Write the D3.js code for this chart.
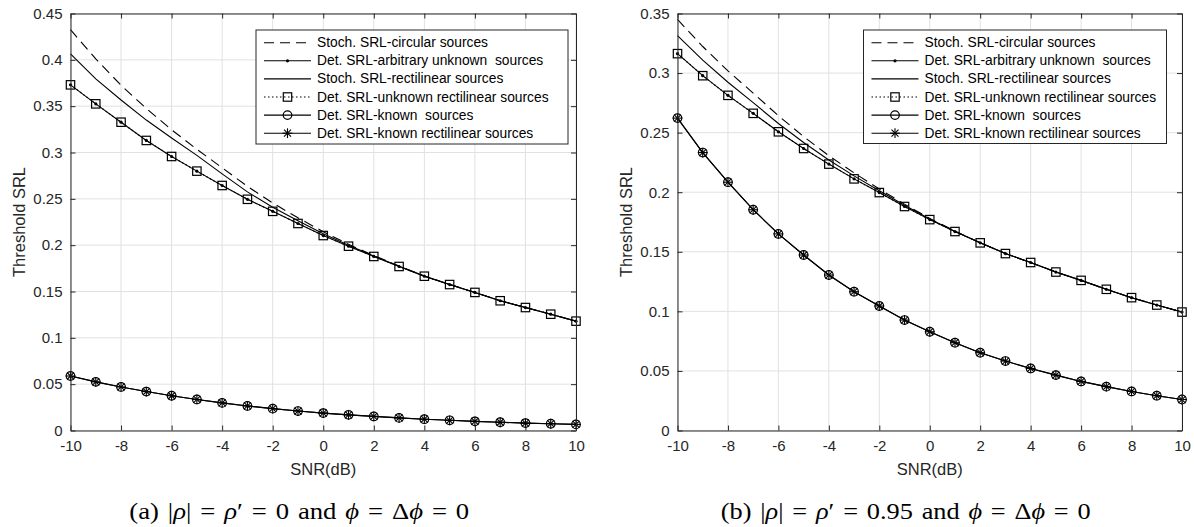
<!DOCTYPE html>
<html><head><meta charset="utf-8">
<script src="https://cdn.jsdelivr.net/npm/d3@7"></script>
<style>body{margin:0;background:#fff;} svg{display:block;} text{white-space:pre;}</style>
</head><body>
<svg id="c" width="1194" height="527"></svg>
<script>
// ---------- data ----------
const snr = [-10,-9,-8,-7,-6,-5,-4,-3,-2,-1,0,1,2,3,4,5,6,7,8,9,10];
const xTicks = [-10,-8,-6,-4,-2,0,2,4,6,8,10];
const yTicksA = [0,0.05,0.1,0.15,0.2,0.25,0.3,0.35,0.4,0.45];
const yTicksB = [0,0.05,0.1,0.15,0.2,0.25,0.3,0.35];
const xLabel = "SNR(dB)";
const yLabel = "Threshold SRL";
const legendLabels = [
  "Stoch. SRL-circular sources",
  "Det. SRL-arbitrary unknown  sources",
  "Stoch. SRL-rectilinear sources",
  "Det. SRL-unknown rectilinear sources",
  "Det. SRL-known  sources",
  "Det. SRL-known rectilinear sources"
];

// panel (a): |rho| = rho' = 0
const stochCircA    = [0.4325,0.401,0.3725,0.3475,0.3245,0.3035,0.2835,0.2635,0.2455,0.2295,0.2145,0.2009,0.1888,0.1775,0.1668,0.1576,0.149,0.140,0.1327,0.1255,0.118];
const detArbA       = [0.373,0.3525,0.3327,0.313,0.2957,0.2799,0.2644,0.2495,0.2365,0.2234,0.2104,0.1989,0.1878,0.177,0.1665,0.1575,0.149,0.140,0.1327,0.1255,0.118];
const stochRectA    = [0.4065,0.3795,0.3567,0.335,0.3157,0.2969,0.2769,0.2575,0.241,0.2264,0.2124,0.1999,0.1883,0.1772,0.1666,0.1575,0.149,0.140,0.1327,0.1255,0.118];
const detUnkRectA   = [0.373,0.3525,0.3327,0.313,0.2957,0.2799,0.2644,0.2495,0.2365,0.2234,0.2104,0.1989,0.1878,0.177,0.1665,0.1575,0.149,0.140,0.1327,0.1255,0.118];
const detKnownA     = [0.0588,0.0525,0.047,0.042,0.0375,0.0335,0.0298,0.0265,0.0236,0.021,0.0188,0.0169,0.0152,0.0136,0.0122,0.011,0.0099,0.0089,0.008,0.0073,0.0066];
const detKnownRectA = [0.0588,0.0525,0.047,0.042,0.0375,0.0335,0.0298,0.0265,0.0236,0.021,0.0188,0.0169,0.0152,0.0136,0.0122,0.011,0.0099,0.0089,0.008,0.0073,0.0066];

// panel (b): |rho| = rho' = 0.95
const stochCircB    = [0.345,0.3223,0.3018,0.2832,0.2642,0.2467,0.2306,0.2162,0.2027,0.19,0.178,0.1675,0.1575,0.1485,0.141,0.133,0.126,0.1185,0.1115,0.1053,0.0994];
const detArbB       = [0.3163,0.2978,0.2813,0.2662,0.2507,0.2367,0.2236,0.2112,0.1997,0.188,0.177,0.167,0.1575,0.1485,0.141,0.133,0.126,0.1185,0.1115,0.1053,0.0994];
const stochRectB    = [0.3315,0.3108,0.2923,0.2752,0.2577,0.2417,0.2271,0.2137,0.2012,0.189,0.1775,0.167,0.1575,0.1485,0.141,0.133,0.126,0.1185,0.1115,0.1053,0.0994];
const detUnkRectB   = [0.3163,0.2978,0.2813,0.2662,0.2507,0.2367,0.2236,0.2112,0.1997,0.188,0.177,0.167,0.1575,0.1485,0.141,0.133,0.126,0.1185,0.1115,0.1053,0.0994];
const detKnownB     = [0.2622,0.2333,0.2084,0.1853,0.165,0.1473,0.1305,0.1165,0.1045,0.0927,0.0829,0.0737,0.0653,0.0583,0.0521,0.0465,0.0412,0.0368,0.0328,0.0292,0.026];
const detKnownRectB = [0.2622,0.2333,0.2084,0.1853,0.165,0.1473,0.1305,0.1165,0.1045,0.0927,0.0829,0.0737,0.0653,0.0583,0.0521,0.0465,0.0412,0.0368,0.0328,0.0292,0.026];

// captions: [text, italic]   (three-per-em spaces mimic TeX math spacing)
const SP = "\u2004";
const EQ = SP + "=" + SP;
const captionA = [["(a)"+SP,0],["|",0],["ρ",1],["|"+EQ,0],["ρ",1],["′"+EQ+"0"+SP,0],["and"+SP,0],["ϕ",1],[EQ+"Δ",0],["ϕ",1],[EQ+"0",0]];
const captionB = [["(b)"+SP,0],["|",0],["ρ",1],["|"+EQ,0],["ρ",1],["′"+EQ+"0.95"+SP,0],["and"+SP,0],["ϕ",1],[EQ+"Δ",0],["ϕ",1],[EQ+"0",0]];

// ---------- styles ----------
const seriesStyle = [
  {dash:"10,6", marker:null},
  {dash:null, marker:"dot"},
  {dash:null, marker:null},
  {dash:"1.5,2.5", marker:"square"},
  {dash:null, marker:"circle"},
  {dash:null, marker:"star"}
];
const AX = "#262626", GRID = "#e1e1e1";
const SANS = "'Liberation Sans', Arial, Helvetica, sans-serif";
const SERIF = "'Liberation Serif', 'Times New Roman', Times, serif";

const panels = [
  {x0:70.5, x1:576, y0:13.5, y1:430.5, yMax:0.45, yTicks:yTicksA,
   series:[stochCircA,detArbA,stochRectA,detUnkRectA,detKnownA,detKnownRectA],
   legend:{x:256, y:30, w:312, h:114}, caption:captionA, capW:340},
  {x0:677.5, x1:1182, y0:13.5, y1:430.5, yMax:0.35, yTicks:yTicksB,
   series:[stochCircB,detArbB,stochRectB,detUnkRectB,detKnownB,detKnownRectB],
   legend:{x:863.5, y:30, w:303, h:113.5}, caption:captionB, capW:370}
];

const svg = d3.select("#c");

function drawMarker(g, type, cx, cy) {
  if (type === "dot") {
    g.append("circle").attr("cx",cx).attr("cy",cy).attr("r",1.6).attr("fill","#000");
  } else if (type === "square") {
    g.append("rect").attr("x",cx-4.2).attr("y",cy-4.2).attr("width",8.4).attr("height",8.4)
      .attr("fill","none").attr("stroke","#000").attr("stroke-width",1.2);
  } else if (type === "circle") {
    g.append("circle").attr("cx",cx).attr("cy",cy).attr("r",4.3)
      .attr("fill","none").attr("stroke","#000").attr("stroke-width",1.2);
  } else if (type === "star") {
    const a = 4.9, b = 3.5;
    [[cx-a,cy,cx+a,cy],[cx,cy-a,cx,cy+a],[cx-b,cy-b,cx+b,cy+b],[cx-b,cy+b,cx+b,cy-b]].forEach(l=>{
      g.append("line").attr("x1",l[0]).attr("y1",l[1]).attr("x2",l[2]).attr("y2",l[3])
        .attr("stroke","#000").attr("stroke-width",1.1);
    });
  }
}

const fmt = d => String(+d.toFixed(2));

panels.forEach(p => {
  const x = d3.scaleLinear().domain([-10,10]).range([p.x0,p.x1]);
  const y = d3.scaleLinear().domain([0,p.yMax]).range([p.y1,p.y0]);
  const g = svg.append("g");

  g.append("rect").attr("x",p.x0).attr("y",p.y0).attr("width",p.x1-p.x0).attr("height",p.y1-p.y0).attr("fill","#fff");

  // grid
  g.append("g").selectAll("line").data(xTicks).join("line")
    .attr("x1",d=>x(d)).attr("x2",d=>x(d)).attr("y1",p.y0).attr("y2",p.y1)
    .attr("stroke",GRID).attr("stroke-width",1);
  g.append("g").selectAll("line").data(p.yTicks).join("line")
    .attr("y1",d=>y(d)).attr("y2",d=>y(d)).attr("x1",p.x0).attr("x2",p.x1)
    .attr("stroke",GRID).attr("stroke-width",1);

  // series
  const line = d3.line().x((d,i)=>x(snr[i])).y(d=>y(d));
  p.series.forEach((vals, si) => {
    const st = seriesStyle[si];
    g.append("path").attr("d", line(vals)).attr("fill","none").attr("stroke","#000")
      .attr("stroke-width",1.1).attr("stroke-dasharray", st.dash);
    if (st.marker) {
      const mg = g.append("g");
      vals.forEach((v,i)=>drawMarker(mg, st.marker, x(snr[i]), y(v)));
    }
  });

  // axes (box with inward ticks)
  const axB = d3.axisBottom(x).tickValues(xTicks).tickSizeInner(-5).tickSizeOuter(0).tickPadding(10).tickFormat(d=>d);
  const axT = d3.axisTop(x).tickValues(xTicks).tickSizeInner(-5).tickSizeOuter(0).tickFormat("");
  const axL = d3.axisLeft(y).tickValues(p.yTicks).tickSizeInner(-5).tickSizeOuter(0).tickPadding(8).tickFormat(fmt);
  const axR = d3.axisRight(y).tickValues(p.yTicks).tickSizeInner(-5).tickSizeOuter(0).tickFormat("");
  const gB = g.append("g").attr("transform",`translate(0,${p.y1})`).call(axB);
  const gT = g.append("g").attr("transform",`translate(0,${p.y0})`).call(axT);
  const gL = g.append("g").attr("transform",`translate(${p.x0},0)`).call(axL);
  const gR = g.append("g").attr("transform",`translate(${p.x1},0)`).call(axR);
  [gB,gT,gL,gR].forEach(a=>{
    a.select(".domain").attr("stroke",AX).attr("stroke-width",1);
    a.selectAll(".tick line").attr("stroke",AX).attr("stroke-width",1);
    a.selectAll(".tick text").attr("fill",AX).style("font-family",SANS).style("font-size","15px");
  });

  // axis labels
  g.append("text").attr("x",(p.x0+p.x1)/2).attr("y",p.y1+38).attr("text-anchor","middle")
    .attr("dominant-baseline","central").style("font-family",SANS).style("font-size","16.5px")
    .attr("fill",AX).text(xLabel);
  g.append("text").attr("transform",`translate(${p.x0-52},${(p.y0+p.y1)/2}) rotate(-90)`)
    .attr("text-anchor","middle").attr("dominant-baseline","central")
    .style("font-family",SANS).style("font-size","16.5px").attr("fill",AX).text(yLabel);

  // legend
  const L = p.legend;
  const lg = g.append("g");
  lg.append("rect").attr("x",L.x).attr("y",L.y).attr("width",L.w).attr("height",L.h)
    .attr("fill","#fff").attr("stroke",AX).attr("stroke-width",1);
  legendLabels.forEach((lab,i)=>{
    const cy = L.y + 12.7 + i*18.1;
    const st = seriesStyle[i];
    lg.append("line").attr("x1",L.x+8).attr("x2",L.x+55).attr("y1",cy).attr("y2",cy)
      .attr("stroke","#000").attr("stroke-width",1.1).attr("stroke-dasharray",st.dash);
    if (st.marker) drawMarker(lg, st.marker, L.x+31.5, cy);
    lg.append("text").attr("x",L.x+61).attr("y",cy).attr("dominant-baseline","central")
      .style("font-family",SANS).style("font-size","13.8px").attr("fill","#000").text(lab);
  });

  // caption: serif, fitted to the measured width
  const cx = (p.x0+p.x1)/2 - 24;
  const cg = g.append("g").attr("transform",`translate(${cx},511)`);
  const ct = cg.append("text").attr("x",0).attr("y",0).attr("text-anchor","middle")
    .attr("dominant-baseline","central").style("font-family",SERIF).style("font-size","23px").attr("fill","#000");
  p.caption.forEach(([t,it])=>{
    ct.append("tspan").style("font-style", it ? "italic" : "normal").text(t);
  });
  const w = ct.node().getComputedTextLength();
  cg.attr("transform",`translate(${cx},511) scale(${p.capW / w},1)`);
});
</script>
</body></html>
